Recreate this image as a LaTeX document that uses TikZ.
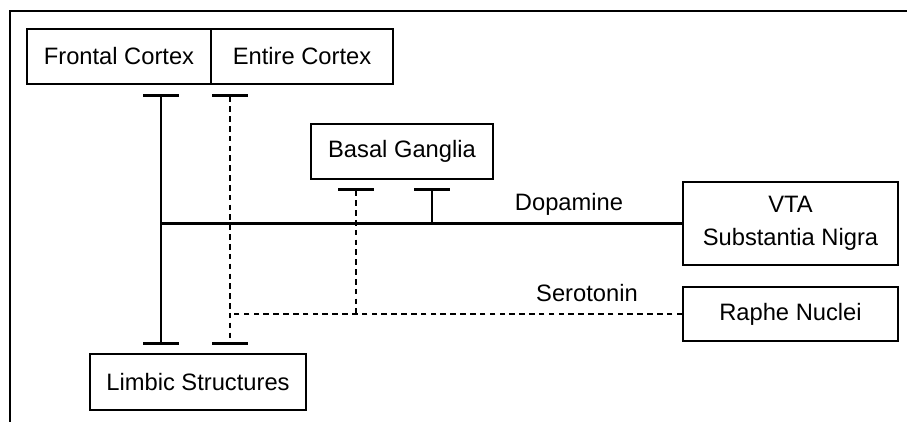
\documentclass[tikz,border=0pt]{standalone}
\usepackage{fontspec}
\setmainfont{Liberation Sans}
\usetikzlibrary{arrows.meta}
\tikzset{tee/.tip={Bar[line width=2pt, width=0.72cm]}}

\begin{document}
\begin{tikzpicture}
		[x=0.02cm,y=-0.02cm]
			\tikzstyle{every node}=[font=\fontsize{13.5}{19}\selectfont]
			\tikzstyle{region}=[draw, line width=0.9pt, inner sep=0pt, minimum height=1.1cm]
			\tikzstyle{dopa}=[line width=1.3pt]
			\tikzstyle{sero}=[line width=0.8pt, dash pattern=on 3.2pt off 2.4pt]
		\useasboundingbox (0,0) rectangle (907,422);
		\draw[line width=0.9pt] (10,422) -- (10,11) -- (907,11);
		%-----regions
		 \node[region, minimum width=3.68cm]  (FC) at (119,56.5) {Frontal Cortex};
		 \node[region, minimum width=3.64cm]  (EC) at (302,56.5) {Entire Cortex};
		 \node[region, minimum width=3.64cm]  (BG) at (402,151.5) {Basal Ganglia};
		 \node[region, minimum width=4.32cm, minimum height=1.12cm]  (LS) at (198,382) {Limbic Structures};
		 \node[region, minimum width=4.3cm, minimum height=1.66cm, align=center]  (VTA) at (790.5,223.5) {VTA\\Substantia Nigra};
		 \node[region, minimum width=4.3cm, minimum height=1.08cm]  (RN) at (790.5,314) {Raphe Nuclei};
		 \node (DA) at (569,204) {Dopamine};
		 \node (HT) at (587,293) {Serotonin};
		%-----junctions
		 \coordinate (D1) at (161,223.5);
		 \coordinate (D2) at (432,223.5);
		 \coordinate (S1) at (230,314);
		 \coordinate (S2) at (356,314);
		 
		 \draw[dopa, tee-tee, shorten <=0.18cm, shorten >=0.16cm] (FC.south -| D1) -- (LS.north -| D1);
		 \draw[sero, tee-tee, shorten <=0.18cm, shorten >=0.16cm] (EC.south -| S1) -- (LS.north -| S1);
		 \draw[dopa, tee-, shorten <=0.16cm] (BG.south -| D2) -- (D2);
		 \draw[sero, tee-, shorten <=0.16cm] (BG.south -| S2) -- (S2);
		 \draw[dopa] (VTA.west) -- (D1);
		 \draw[sero] (RN.west) -- (S1);
		 
		\end{tikzpicture}
\end{document}
